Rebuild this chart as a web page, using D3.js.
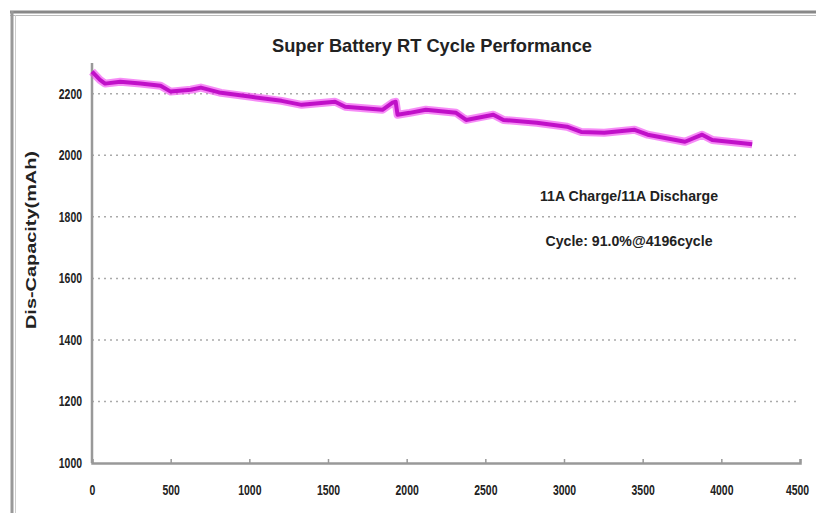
<!DOCTYPE html>
<html>
<head>
<meta charset="utf-8">
<script src="https://cdn.jsdelivr.net/npm/d3@7"></script>
<style>
body { margin: 0; background: #fff; }
svg { display: block; }
text { font-family: "Liberation Sans Narrow", "Arial Narrow", "Liberation Sans", sans-serif; font-weight: bold; fill: #222; }
</style>
</head>
<body>
<div class="container"></div>
<script>
const width = 816, height = 513;

// cycle number, discharge capacity (mAh)
const cycles = [0, 51, 83, 180, 308, 436, 500, 628, 692, 820, 1013, 1205, 1333, 1545, 1609,
	1846, 1910, 1930, 1942, 2019, 2122, 2314, 2378, 2551, 2615, 2827, 3019, 3109, 3256,
	3449, 3532, 3769, 3878, 3942, 4109, 4196];
const capacity = [2272, 2245, 2233, 2239, 2233, 2226, 2207, 2213, 2220, 2203, 2190, 2177, 2164,
	2174, 2158, 2148, 2171, 2174, 2132, 2138, 2148, 2138, 2115, 2132, 2115, 2106, 2093, 2076,
	2073, 2083, 2067, 2044, 2067, 2050, 2041, 2036];

const xTicks = [0, 500, 1000, 1500, 2000, 2500, 3000, 3500, 4000, 4500];
const yTicks = [1000, 1200, 1400, 1600, 1800, 2000, 2200];
const notes = ['11A Charge/11A Discharge', 'Cycle: 91.0%@4196cycle'];

const margin = {left: 92, right: 16, top: 63, bottom: 50};

const sx = d3.scaleLinear().domain([0, 4500]).range([margin.left, width - margin.right]);
const sy = d3.scaleLinear().domain([1000, 2300]).range([height - margin.bottom, margin.top]);

const svg = d3.select('.container').append('svg')
	.attr('width', width)
	.attr('height', height)
	.attr('viewBox', [0, 0, width, height]);

// outer frame
svg.append('line').attr('x1', 10).attr('x2', width).attr('y1', 12).attr('y2', 12)
	.attr('stroke', '#888').attr('stroke-width', 3);
svg.append('line').attr('x1', 10).attr('x2', width).attr('y1', 15.5).attr('y2', 15.5)
	.attr('stroke', '#bbb').attr('stroke-width', 1);
svg.append('line').attr('x1', 12).attr('x2', 12).attr('y1', 11).attr('y2', height)
	.attr('stroke', '#999').attr('stroke-width', 3);
svg.append('line').attr('x1', 15.5).attr('x2', 15.5).attr('y1', 15).attr('y2', height)
	.attr('stroke', '#ccc').attr('stroke-width', 1);

// grid
svg.append('g')
	.selectAll('line')
	.data(yTicks.filter(d => d > 1000))
	.join('line')
	.attr('x1', sx(0))
	.attr('x2', sx(4500))
	.attr('y1', d => sy(d))
	.attr('y2', d => sy(d))
	.attr('stroke', '#aaa')
	.attr('stroke-width', 1.5)
	.attr('stroke-dasharray', '2,4');

// axes
const xAxis = svg.append('g')
	.attr('transform', 'translate(0,' + sy(1000) + ')')
	.call(d3.axisBottom(sx).tickValues(xTicks).tickSize(-4).tickPadding(22).tickFormat(d3.format('d')));
const yAxis = svg.append('g')
	.attr('transform', 'translate(' + sx(0) + ',0)')
	.call(d3.axisLeft(sy).tickValues(yTicks).tickSize(0).tickPadding(10).tickFormat(d3.format('d')));

[xAxis, yAxis].forEach(a => {
	a.select('.domain').attr('stroke', '#999').attr('stroke-width', 2.5);
	a.selectAll('.tick line').attr('stroke', '#999').attr('stroke-width', 1.5);
	a.selectAll('.tick text').attr('font-size', 14).attr('fill', '#222')
		.attr('textLength', d => String(d).length * 5.8)
		.attr('lengthAdjust', 'spacingAndGlyphs');
});
yAxis.select('.domain').attr('d', 'M0,' + sy(2300) + 'V' + sy(1000));
xAxis.selectAll('.tick text').filter(d => d === 4500).attr('dx', -3);

// line
const pts = cycles.map((c, i) => [c, capacity[i]]);
const line = d3.line().x(d => sx(d[0])).y(d => sy(d[1]));
svg.append('path')
	.datum(pts)
	.attr('fill', 'none')
	.attr('stroke', '#f040f0')
	.attr('stroke-width', 8)
	.attr('stroke-linejoin', 'round')
	.attr('stroke-opacity', 0.6)
	.attr('d', line);
svg.append('path')
	.datum(pts)
	.attr('fill', 'none')
	.attr('stroke', '#c010c8')
	.attr('stroke-width', 4)
	.attr('stroke-linejoin', 'round')
	.attr('d', line);

// title & labels
svg.append('text')
	.attr('x', 432).attr('y', 52)
	.attr('text-anchor', 'middle')
	.attr('font-size', 19)
	.attr('textLength', 320)
	.attr('lengthAdjust', 'spacingAndGlyphs')
	.text('Super Battery RT Cycle Performance');

svg.append('text')
	.attr('transform', 'translate(36,' + 240 + ') rotate(-90)')
	.attr('text-anchor', 'middle')
	.attr('font-size', 15)
	.attr('textLength', 178)
	.attr('lengthAdjust', 'spacingAndGlyphs')
	.text('Dis-Capacity(mAh)');

svg.append('g')
	.selectAll('text')
	.data(notes)
	.join('text')
	.attr('x', 629)
	.attr('y', (d, i) => 201 + i * 45)
	.attr('text-anchor', 'middle')
	.attr('font-size', 14)
	.attr('textLength', (d, i) => i ? 167 : 178)
	.attr('lengthAdjust', 'spacingAndGlyphs')
	.text(d => d);
</script>
</body>
</html>
